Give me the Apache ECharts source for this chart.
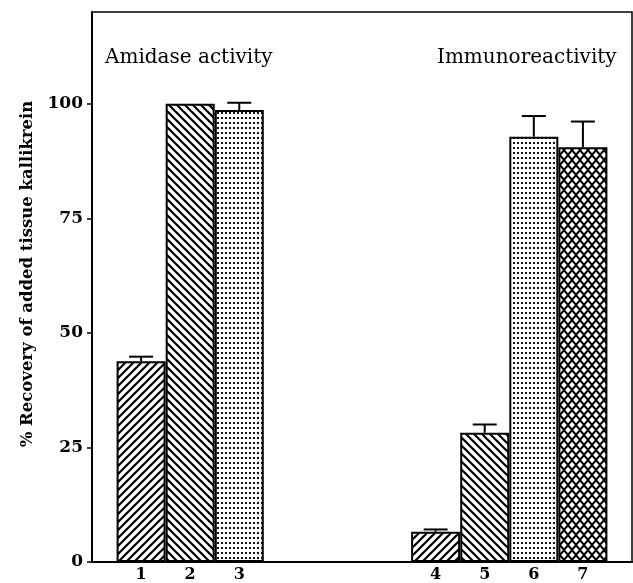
<!DOCTYPE html>
<html><head><meta charset="utf-8">
<script src="https://cdn.jsdelivr.net/npm/echarts@6/dist/echarts.min.js"></script>
<style>html,body{margin:0;padding:0;background:#fff}#c{width:633px;height:583px}</style>
</head><body><div id="c"></div>
<script>
// ---- data ----
const barLabels = ['1','2','3','4','5','6','7'];
const barPositions = [1,2,3,7,8,9,10];
const barValues = [43.8, 100, 98.6, 6.6, 28.2, 92.8, 90.5];
const barErrors = [1.0, 0, 1.6, 0.5, 1.8, 4.5, 5.6];
const yTicks = [0,25,50,75,100];
const groupTitles = ['Amidase activity','Immunoreactivity'];
const yAxisTitle = '% Recovery of added tissue kallikrein';

// ---- patterns ----
function mk(w,h){const c=document.createElement('canvas');c.width=w;c.height=h||w;return c;}
function diag(dir){
  const s=8,c=mk(s),g=c.getContext('2d');
  g.fillStyle='#fff';g.fillRect(0,0,s,s);
  g.strokeStyle='#000';g.lineWidth=2.2;
  for(let k=-1;k<=1;k++){
    g.beginPath();
    if(dir>0){g.moveTo(k*s-1,s+1);g.lineTo(k*s+s+1,-1);}
    else{g.moveTo(k*s-1,-1);g.lineTo(k*s+s+1,s+1);}
    g.stroke();
  }
  return c;
}
function dots(){
  const c=mk(4,5),g=c.getContext('2d');
  g.fillStyle='#fff';g.fillRect(0,0,4,5);
  g.fillStyle='#111';g.fillRect(1,2,2,2);
  return c;
}
function cross(){
  const w=8,h=10,c=mk(w,h),g=c.getContext('2d');
  g.fillStyle='#000';g.fillRect(0,0,w,h);
  g.fillStyle='#fff';
  const pts=[[0,0],[w,0],[0,h],[w,h],[w/2,h/2]];
  const rx=2.8, ry=3.2;
  pts.forEach(([x,y])=>{
    g.beginPath();g.moveTo(x,y-ry);g.lineTo(x+rx,y);g.lineTo(x,y+ry);g.lineTo(x-rx,y);g.closePath();g.fill();
  });
  return c;
}
const pUp=diag(1), pDown=diag(-1), pDot=dots(), pCross=cross();
const pats=[pUp,pDown,pDot,pUp,pDown,pDot,pCross];

const serif='"DejaVu Serif", "Liberation Serif", serif';
const chart=echarts.init(document.getElementById('c'),null,{renderer:'canvas'});
const barData=barPositions.map((x,i)=>({value:[x,barValues[i]],itemStyle:{color:{image:pats[i],repeat:'repeat'}}}));
const errData=barPositions.map((x,i)=>[x,barValues[i],barErrors[i]]);
chart.setOption({
  animation:false,
  backgroundColor:'#fff',
  title:[
    {text:groupTitles[0],left:100,top:43,textStyle:{fontFamily:serif,fontWeight:'normal',fontSize:20,color:'#000'}},
    {text:groupTitles[1],left:432,top:43,textStyle:{fontFamily:serif,fontWeight:'normal',fontSize:20,color:'#000'}}
  ],
  grid:{left:92,right:1,top:12,bottom:21,show:true,borderColor:'#000',borderWidth:1.5,containLabel:false},
  xAxis:{type:'value',min:0,max:11,
    axisLine:{show:true,lineStyle:{color:'#000',width:2}},
    axisTick:{show:false},splitLine:{show:false},
    axisLabel:{customValues:barPositions,formatter:v=>barLabels[barPositions.indexOf(v)]||'',
      fontFamily:serif,fontWeight:'bold',fontSize:16,color:'#000',margin:5}},
  yAxis:{type:'value',min:0,max:120,
    name:yAxisTitle,nameLocation:'middle',nameGap:53,
    nameTextStyle:{fontFamily:serif,fontWeight:'bold',fontSize:16.5,color:'#000',padding:[0,0,0,26]},
    axisLine:{show:true,lineStyle:{color:'#000',width:2}},
    axisTick:{show:true,customValues:yTicks,length:5,lineStyle:{color:'#000',width:1.5}},
    splitLine:{show:false},
    axisLabel:{customValues:yTicks,fontFamily:serif,fontWeight:'bold',fontSize:17,color:'#000',margin:9}},
  series:[
    {type:'bar',data:barData,barWidth:49,itemStyle:{borderColor:'#000',borderWidth:2}},
    {type:'custom',data:errData,z:5,renderItem:(p,api)=>{
      const x=api.value(0),y=api.value(1),e=api.value(2);
      if(!e) return null;
      const a=api.coord([x,y]),b=api.coord([x,y+e]);
      return {type:'group',children:[
        {type:'line',shape:{x1:a[0],y1:a[1],x2:b[0],y2:b[1]},style:{stroke:'#000',lineWidth:2}},
        {type:'line',shape:{x1:b[0]-12,y1:b[1],x2:b[0]+12,y2:b[1]},style:{stroke:'#000',lineWidth:2}}
      ]};
    }}
  ]
});
</script></body></html>
